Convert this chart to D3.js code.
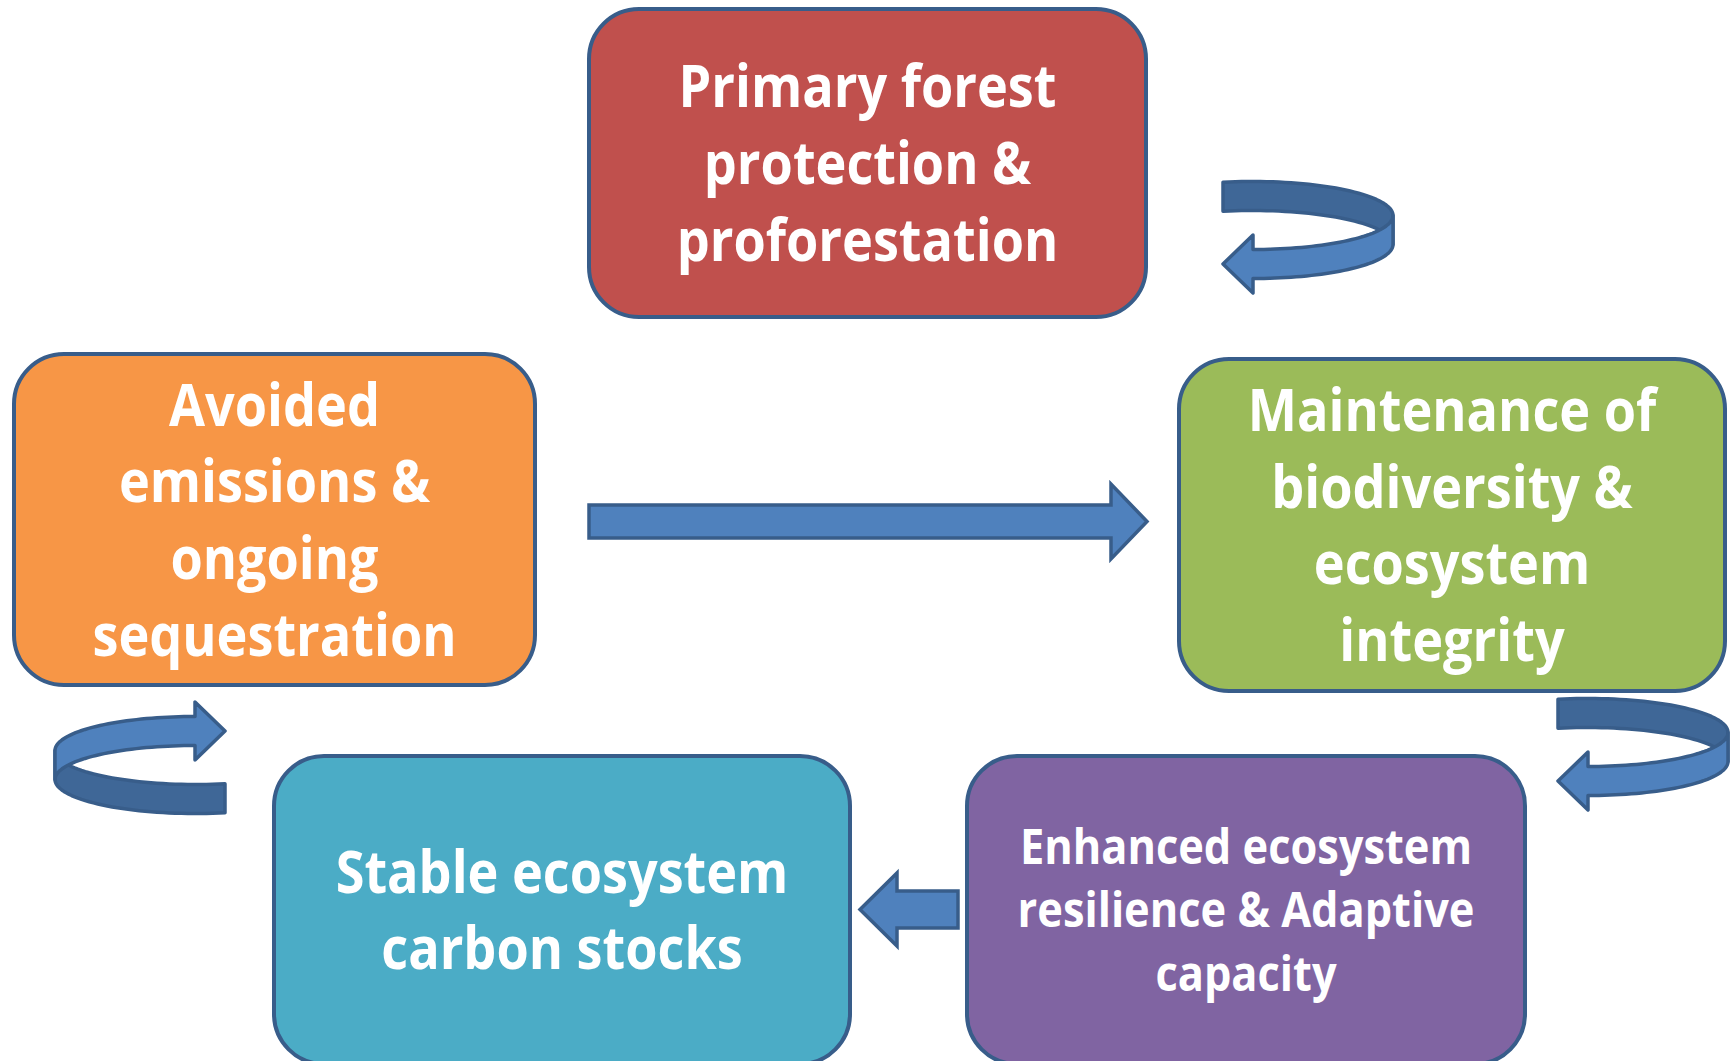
<!DOCTYPE html>
<html>
<head>
<meta charset="utf-8">
<script src="https://cdn.jsdelivr.net/npm/d3@7"></script>
<style>
  html, body { margin: 0; background: #ffffff; }
  svg { display: block; }
</style>
</head>
<body>
<svg id="diagrama"></svg>
<script>
// Textos de cada caja, una línea por elemento
const etiquetas = [
    ["Primary forest", "protection &", "proforestation"],
    ["Avoided", "emissions &", "ongoing", "sequestration"],
    ["Maintenance of", "biodiversity &", "ecosystem", "integrity"],
    ["Enhanced ecosystem", "resilience & Adaptive", "capacity"],
    ["Stable ecosystem", "carbon stocks"]
];
const colores = ["#c0504d", "#f79646", "#9bbb59", "#8064a2", "#4bacc6"];

// Disposición (px) de cada caja
const ancho = 1733, alto = 1061;
const cajas = [
    {x: 589, y: 9, w: 557, h: 308, fs: 59},
    {x: 14, y: 354, w: 521, h: 331, fs: 59},
    {x: 1179, y: 359, w: 546, h: 332, fs: 59},
    {x: 967, y: 756, w: 558, h: 308, fs: 49},
    {x: 274, y: 756, w: 576, h: 308, fs: 59}
];

const borde = "#385d8a";
const azul = "#4f81bd";
const azulOscuro = "#3f6797";

const svg = d3.select("#diagrama")
    .attr("width", ancho)
    .attr("height", alto);

// Flechas rectas: {x0 inicio del cuerpo, x1 punta, y centro}
const flechas = [
    {x0: 589, x1: 1147, y: 521.5, cuerpo: 16.5, cabeza: 37.5, largo: 36},
    {x0: 958, x1: 860, y: 909.5, cuerpo: 18.5, cabeza: 36.5, largo: 37}
];

flechas.forEach(f => {
    const s = Math.sign(f.x1 - f.x0);
    const xb = f.x1 - s * f.largo;
    const p = d3.path();
    p.moveTo(f.x0, f.y - f.cuerpo);
    p.lineTo(xb, f.y - f.cuerpo);
    p.lineTo(xb, f.y - f.cabeza);
    p.lineTo(f.x1, f.y);
    p.lineTo(xb, f.y + f.cabeza);
    p.lineTo(xb, f.y + f.cuerpo);
    p.lineTo(f.x0, f.y + f.cuerpo);
    p.closePath();
    svg.append("path")
        .attr("d", p.toString())
        .attr("fill", azul)
        .attr("stroke", borde)
        .attr("stroke-width", 3.5)
        .attr("stroke-linejoin", "miter");
});

// Flecha curva en forma de cinta; (tx, ty) es la punta
function flechaCurva(tx, ty, giro) {
    const cx = 30, cy = -35, rx = 140, ry = 34, w = 14.5;
    const elipse = (t, off) => [cx + rx * Math.cos(t), cy + ry * Math.sin(t) + off];
    const t0 = -Math.PI / 2 - Math.asin(cx / rx);
    const linea = d3.line();

    const g = svg.append("g")
        .attr("transform", "translate(" + tx + "," + ty + ") rotate(" + giro + ")");

    // Parte trasera (más oscura)
    const tras = [];
    d3.range(0, 41).forEach(i => tras.push(elipse(t0 + (0 - t0) * i / 40, -w)));
    d3.range(40, -1, -1).forEach(i => tras.push(elipse(t0 + (0 - t0) * i / 40, w)));
    g.append("path")
        .attr("d", linea(tras) + "Z")
        .attr("fill", azulOscuro)
        .attr("stroke", borde)
        .attr("stroke-width", 3.5)
        .attr("stroke-linejoin", "round");

    // Parte delantera con la cabeza
    const del = [];
    d3.range(0, 41).forEach(i => del.push(elipse(Math.PI / 2 * i / 40, -w)));
    const yc = cy + ry;
    del.push([cx, yc - 29]);
    del.push([0, yc]);
    del.push([cx, yc + 29]);
    d3.range(40, -1, -1).forEach(i => del.push(elipse(Math.PI / 2 * i / 40, w)));
    g.append("path")
        .attr("d", linea(del) + "Z")
        .attr("fill", azul)
        .attr("stroke", borde)
        .attr("stroke-width", 3.5)
        .attr("stroke-linejoin", "round");
}

flechaCurva(1223, 265, 0);
flechaCurva(1558, 782, 0);
flechaCurva(225, 730, 180);

// Cajas
const grupos = svg.selectAll("g.caja")
    .data(cajas)
    .enter()
    .append("g")
    .attr("class", "caja");

grupos.append("rect")
    .attr("x", d => d.x)
    .attr("y", d => d.y)
    .attr("width", d => d.w)
    .attr("height", d => d.h)
    .attr("rx", 50)
    .attr("ry", 50)
    .attr("fill", (d, i) => colores[i])
    .attr("stroke", borde)
    .attr("stroke-width", 4);

// Texto centrado en cada caja
grupos.each(function(d, i) {
    const lineas = etiquetas[i];
    const lh = d.fs * 1.3;
    const cxx = d.x + d.w / 2;
    const cyy = d.y + d.h / 2;
    d3.select(this).selectAll("text")
        .data(lineas)
        .enter()
        .append("text")
        .attr("transform", (t, j) => {
            const yb = cyy + (j - (lineas.length - 1) / 2) * lh + d.fs * 0.357;
            return "translate(" + cxx + "," + yb + ") scale(0.885,1)";
        })
        .attr("text-anchor", "middle")
        .style("font-family", "'Open Sans', sans-serif")
        .style("font-weight", "bold")
        .style("font-size", d.fs + "px")
        .attr("fill", "#ffffff")
        .text(t => t);
});
</script>
</body>
</html>
